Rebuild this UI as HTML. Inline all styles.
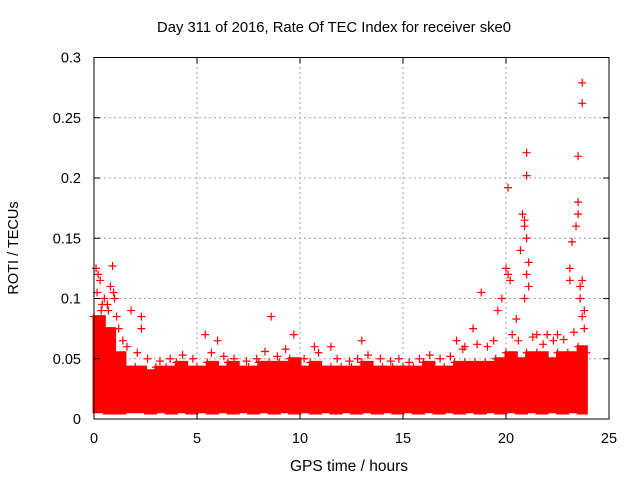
<!DOCTYPE html>
<html><head><meta charset="utf-8"><style>
body{margin:0;background:#fff;}
svg{display:block;font-family:"Liberation Sans",sans-serif;}
</style></head><body>
<svg id="c" width="640" height="480">
<text x="334" y="32" text-anchor="middle" font-size="14.8">Day 311 of 2016, Rate Of TEC Index for receiver ske0</text>
<text x="349" y="471" text-anchor="middle" font-size="15.5">GPS time / hours</text>
<text transform="translate(18,248) rotate(-90)" text-anchor="middle" font-size="14.5">ROTI / TECUs</text>
<g id="grid"></g><g id="marks"></g><g id="axes"></g>
</svg>
<script>
const xTicks=[0,5,10,15,20,25];
const yTicks=[0,0.05,0.1,0.15,0.2,0.25,0.3];
const yTickLabels=["0","0.05","0.1","0.15","0.2","0.25","0.3"];
const bandHours=[0,0.5,1,1.5,2,2.5,3,3.5,4,4.5,5,5.5,6,6.5,7,7.5,8,8.5,9,9.5,10,10.5,11,11.5,12,12.5,13,13.5,14,14.5,15,15.5,16,16.5,17,17.5,18,18.5,19,19.5,20,20.5,21,21.5,22,22.5,23,23.5,23.9];
const bandHigh=[0.085,0.075,0.055,0.043,0.043,0.04,0.043,0.043,0.047,0.043,0.043,0.047,0.043,0.047,0.043,0.043,0.047,0.047,0.047,0.05,0.043,0.047,0.043,0.043,0.043,0.043,0.047,0.043,0.043,0.043,0.043,0.043,0.047,0.043,0.043,0.047,0.047,0.047,0.047,0.05,0.055,0.05,0.055,0.055,0.05,0.055,0.055,0.06,0.055];
const bandLow=[0.006,0.005,0.005,0.006,0.006,0.005,0.006,0.005,0.006,0.005,0.006,0.005,0.006,0.005,0.006,0.005,0.006,0.005,0.006,0.005,0.006,0.005,0.006,0.005,0.006,0.005,0.006,0.005,0.006,0.005,0.006,0.005,0.006,0.005,0.006,0.005,0.006,0.005,0.006,0.005,0.006,0.005,0.006,0.005,0.006,0.005,0.006,0.005,0.006];
const outT=[0.1,0.2,0.3,0.9,0.8,0.5,1,1.8,2.3,2.3,5.4,6,8.6,9.7,10.7,11.5,13,17.6,18,18.4,18.8,19.6,19.8,20.1,20,20.1,20.2,20.5,20.7,20.8,20.9,21,21,20.9,21,21.1,21,21.1,20.9,21.5,22,22.5,23.2,23.1,23.1,23.5,23.5,23.5,23.4,23.7,23.7,23.7,23.6,23.6,23.8,23.7,0.2,0.6,0.4,0.7,1.1,
 0.15,0.35,0.65,0.95,1.2,1.4,1.6,2.1,2.6,3.2,3.7,4.3,4.8,5.7,6.3,6.8,7.4,7.9,8.3,8.9,9.3,10.2,10.9,11.8,12.4,12.8,13.3,13.9,14.4,14.8,15.3,15.8,16.3,16.8,17.3,17.9,18.6,19.1,19.4,20.3,20.6,21.3,21.8,22.3,22.8,23.3,23.8];
const outV=[0.125,0.12,0.115,0.127,0.11,0.1,0.1,0.09,0.085,0.075,0.07,0.065,0.085,0.07,0.06,0.06,0.065,0.065,0.06,0.075,0.105,0.09,0.1,0.192,0.125,0.12,0.115,0.083,0.14,0.17,0.165,0.221,0.202,0.16,0.15,0.13,0.12,0.11,0.1,0.07,0.07,0.07,0.147,0.125,0.115,0.218,0.18,0.17,0.16,0.279,0.262,0.115,0.11,0.1,0.09,0.085,0.06,0.07,0.095,0.09,0.085,
 0.105,0.09,0.095,0.105,0.075,0.065,0.06,0.055,0.05,0.048,0.05,0.053,0.05,0.055,0.052,0.05,0.048,0.05,0.056,0.052,0.058,0.05,0.055,0.05,0.048,0.05,0.053,0.05,0.048,0.05,0.047,0.05,0.053,0.05,0.052,0.058,0.062,0.06,0.065,0.07,0.065,0.068,0.062,0.065,0.066,0.072,0.075];
const X0=94,X1=609,Y0=419,Y1=57.5;
const xs=v=>X0+(X1-X0)*v/25, ys=v=>Y0-(Y0-Y1)*v/0.3;
const NS="http://www.w3.org/2000/svg";
function mk(t,a,p){const e=document.createElementNS(NS,t);for(const k in a)e.setAttribute(k,a[k]);p.appendChild(e);return e;}
const gridG=document.getElementById('grid'),marksG=document.getElementById('marks'),axesG=document.getElementById('axes');
xTicks.forEach((t,i)=>{
 if(i>0&&i<xTicks.length-1){const g=mk('line',{x1:xs(t),x2:xs(t),y1:Y0,y2:Y1,stroke:'#a0a0a0','stroke-dasharray':'2,3'},gridG);
 
 }
 mk('line',{x1:xs(t),x2:xs(t),y1:Y0,y2:Y0-6,stroke:'#000'},axesG);
 mk('line',{x1:xs(t),x2:xs(t),y1:Y1,y2:Y1+6,stroke:'#000'},axesG);
 const l=mk('text',{x:xs(t),y:Y0+24,'text-anchor':'middle','font-size':14.5},axesG);l.textContent=t;
 
 
});
yTicks.forEach((t,i)=>{
 if(i>0&&i<yTicks.length-1){const g=mk('line',{x1:X0,x2:X1,y1:ys(t),y2:ys(t),stroke:'#a0a0a0','stroke-dasharray':'2,3'},gridG);
 
 }
 mk('line',{x1:X0,x2:X0+6,y1:ys(t),y2:ys(t),stroke:'#000'},axesG);
 mk('line',{x1:X1,x2:X1-6,y1:ys(t),y2:ys(t),stroke:'#000'},axesG);
 const l=mk('text',{x:X0-13,y:ys(t)+5,'text-anchor':'end','font-size':14.5},axesG);l.textContent=yTickLabels[i];
 
 
});
const fr=mk('rect',{x:X0,y:Y1,width:X1-X0,height:Y0-Y1,fill:'none',stroke:'#000'},axesG);


let topPts=[],botPts=[];
for(let i=0;i<bandHours.length;i++){
 const a=xs(bandHours[i]),b=xs(i+1<bandHours.length?bandHours[i+1]:bandHours[i]);
 topPts.push(a+','+ys(bandHigh[i]),b+','+ys(bandHigh[i]));
 botPts.unshift(b+','+ys(bandLow[i]),a+','+ys(bandLow[i]));
}
const band=mk('polygon',{points:topPts.concat(botPts).join(' '),fill:'#ff0000',stroke:'#ff0000','stroke-width':3},marksG);


bandHours.forEach((h,i)=>{
 const p=mk('path',{d:`M${xs(h)-4},${ys(bandHigh[i])}h8M${xs(h)},${ys(bandHigh[i])-4}v8`,stroke:'#ff0000','stroke-width':1.2},marksG);
 
 
});
outT.forEach((t,i)=>{
 const x=xs(t),y=ys(outV[i]);
 const p=mk('path',{d:`M${x-4},${y}h8M${x},${y-4}v8`,stroke:'#ff0000','stroke-width':1.2},marksG);
 
 
});
</script>
</body></html>
